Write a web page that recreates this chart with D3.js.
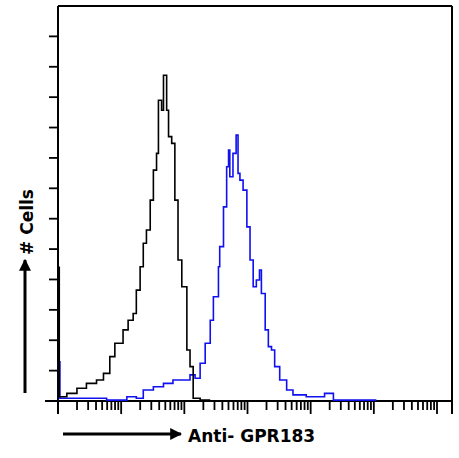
<!DOCTYPE html>
<html><head><meta charset="utf-8">
<script src="https://cdn.jsdelivr.net/npm/d3@7"></script>
<style>body{margin:0;background:#fff}</style></head>
<body><svg id="c" width="459" height="458"></svg>
<script>
// x values are log10 fluorescence intensity (decades), y values are cell counts
const decades = [0,1,2,3,4,5,6];
const yTicks = [0,10,20,30,40,50,60,70,80,90,100,110,120];
const controlLog = [0,0.001,0.02,0.14,0.30,0.45,0.61,0.72,0.82,0.90,1.03,1.11,1.19,1.24,1.30,1.35,1.40,1.46,1.51,1.56,1.59,1.64,1.67,1.72,1.75,1.80,1.85,1.90,1.96,2.04,2.09,2.14,2.25,2.41];
const controlCount = [0,44,1.4,2.5,4.2,5.8,6.9,9.1,14.6,19,23.4,26.6,28.8,36.5,44.2,51.9,56.3,66.1,76,81.5,99,95.7,107.2,95.7,87,84.8,66.1,46.4,37.6,16.8,11.3,0.9,0.3,0.3];
const gprLog = [0,0.001,0.03,0.40,0.77,1.09,1.24,1.35,1.51,1.67,1.82,1.98,2.09,2.17,2.25,2.33,2.41,2.46,2.54,2.56,2.62,2.67,2.70,2.72,2.77,2.82,2.85,2.88,2.93,2.99,3.04,3.09,3.14,3.19,3.22,3.28,3.33,3.38,3.43,3.51,3.62,3.72,3.93,4.22,4.36,5.04];
const gprCount = [0,12.9,0.9,0.9,0.3,1.4,0.9,3.6,4.7,5.8,6.9,6.9,8.6,7.5,12.4,19,26.6,34.3,44.2,50.8,63.9,77.1,82.6,73.8,81.5,87.5,74.9,72.7,69.4,57.3,46.4,37.6,39.8,43.1,35.4,23.4,17.9,16.8,11.3,6.9,3.6,2.0,1.4,2.5,0.3,0.3];

const svg = d3.select("#c");
const L=58,R=452,T=6,B=401;
const x = d3.scaleLinear().domain([0,6]).range([L,437]);
const y = d3.scaleLinear().domain([0,130]).range([B,T]);

svg.append("line").attr("x1",L).attr("x2",L).attr("y1",T).attr("y2",414).attr("stroke","#000").attr("stroke-width",2);
svg.append("line").attr("x1",R).attr("x2",R).attr("y1",T).attr("y2",414).attr("stroke","#000").attr("stroke-width",2);
svg.append("line").attr("x1",L).attr("x2",R).attr("y1",T).attr("y2",T).attr("stroke","#000").attr("stroke-width",2);
svg.append("line").attr("x1",45).attr("x2",R).attr("y1",B).attr("y2",B).attr("stroke","#000").attr("stroke-width",2);

svg.selectAll(".yt").data(yTicks.slice(1)).join("line")
  .attr("x1",49).attr("x2",L).attr("y1",d=>y(d)).attr("y2",d=>y(d)).attr("stroke","#000").attr("stroke-width",1.8);

const xt=[];
decades.forEach(d=>{ xt.push({v:d,major:true}); if(d<6) for(let k=2;k<=9;k++) xt.push({v:d+Math.log10(k),major:false}); });
svg.selectAll(".xt").data(xt).join("line")
  .attr("x1",d=>x(d.v)).attr("x2",d=>x(d.v)).attr("y1",B).attr("y2",d=>d.major?414:410)
  .attr("stroke","#000").attr("stroke-width",1.8);

const line = d3.line().x(d=>x(d[0])).y(d=>y(d[1])).curve(d3.curveStepAfter);
svg.append("path").datum(gprLog.map((v,i)=>[v,gprCount[i]]))
  .attr("d",line).attr("fill","none").attr("stroke","#1010f0").attr("stroke-width",1.6);
svg.append("path").datum(controlLog.map((v,i)=>[v,controlCount[i]]))
  .attr("d",line).attr("fill","none").attr("stroke","#000").attr("stroke-width",1.6);

svg.append("defs").append("marker").attr("id","ah").attr("viewBox","0 0 10 10").attr("refX",9).attr("refY",5)
  .attr("markerWidth",4).attr("markerHeight",4).attr("orient","auto")
  .append("path").attr("d","M0,0L10,5L0,10z").attr("fill","#000");
svg.append("line").attr("x1",25).attr("x2",25).attr("y1",393).attr("y2",260).attr("stroke","#000").attr("stroke-width",3).attr("marker-end","url(#ah)");
svg.append("line").attr("x1",63).attr("x2",181).attr("y1",434).attr("y2",434).attr("stroke","#000").attr("stroke-width",3).attr("marker-end","url(#ah)");
svg.append("text").attr("transform","translate(33,222) rotate(-90)").attr("text-anchor","middle")
  .attr("font-family","DejaVu Sans, sans-serif").attr("font-weight","bold").attr("font-size",17).text("# Cells");
svg.append("text").attr("x",188).attr("y",442).attr("font-family","DejaVu Sans, sans-serif")
  .attr("font-weight","bold").attr("font-size",17).text("Anti- GPR183");
</script></body></html>
